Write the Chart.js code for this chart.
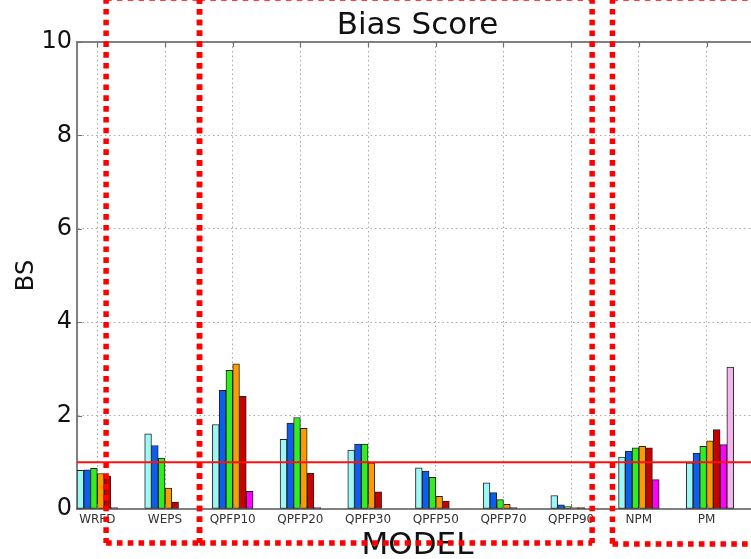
<!DOCTYPE html>
<html>
<head>
<meta charset="utf-8">
<script src="https://cdn.jsdelivr.net/npm/chart.js@4"></script>
<style>
  html, body { margin: 0; padding: 0; background: #fff; overflow: hidden; width: 751px; height: 559px; }
  canvas { display: block; }
</style>
</head>
<body>
<canvas id="chart" width="800" height="600"></canvas>
<script>
// Models on the x axis
const models = ['WRFD', 'WEPS', 'QPFP10', 'QPFP20', 'QPFP30', 'QPFP50', 'QPFP70', 'QPFP90', 'NPM', 'PM'];

// Bias score of each member per model (null = no bar for that model)
const member1 = [0.83, 1.61, 1.81, 1.49, 1.26, 0.88, 0.56, 0.29, 1.11, 0.99];
const member2 = [0.84, 1.36, 2.54, 1.84, 1.39, 0.81, 0.35, 0.09, 1.24, 1.20];
const member3 = [0.87, 1.09, 2.97, 1.96, 1.39, 0.68, 0.20, 0.05, 1.31, 1.34];
const member4 = [0.76, 0.45, 3.11, 1.73, 0.99, 0.27, 0.10, 0.02, 1.34, 1.46];
const member5 = [0.70, 0.15, 2.41, 0.77, 0.37, 0.17, 0.02, 0.01, 1.31, 1.70];
const member6 = [0.01, null, 0.38, 0.03, null, null, null, null, 0.63, 1.38];
const member7 = [null, null, null, null, null, null, null, null, null, 3.04];

const yTickValues = [0, 2, 4, 6, 8, 10];
const perfectBias = 1;

const members = [member1, member2, member3, member4, member5, member6, member7];
const memberColors = ['#9cf7f7', '#0a5ff2', '#30ee20', '#ff9a00', '#c80000', '#ff00ff', '#f5b6f0'];

// bars sit side by side, 0.1 model units wide, starting at each model index
const barWidth = 0.1;
const tickShift = 3 * barWidth;

const datasets = members.map((vals, k) => ({
  label: 'member ' + (k + 1),
  data: vals.map((v, i) => ({ x: i + k * barWidth + barWidth / 2, y: v })),
  backgroundColor: memberColors[k],
  borderColor: '#222',
  borderWidth: 1,
  borderSkipped: false,
  grouped: false,
  categoryPercentage: 1,
  barPercentage: 1,
  minBarLength: 1.5
}));

// highlighted model groups, in axis units
const groupBoxes = [
  { x0: 0.43, x1: 1.81, y0: -0.73, y1: 10.94 },
  { x0: 1.81, x1: 7.61, y0: -0.73, y1: 10.94 },
  { x0: 7.91, x1: 11.5, y0: -0.75, y1: 10.94 }
];

const FONT = 'DejaVu Sans';
const SPINE = '#808080';

const decorations = {
  id: 'decorations',
  afterDatasetsDraw(chart) {
    const { ctx, chartArea: a, scales: { x, y } } = chart;
    ctx.save();
    // reference line at bias = 1
    const yr = y.getPixelForValue(perfectBias);
    ctx.strokeStyle = '#ff1010';
    ctx.lineWidth = 2;
    ctx.beginPath();
    ctx.moveTo(a.left, yr);
    ctx.lineTo(a.right, yr);
    ctx.stroke();
    // top spine
    ctx.strokeStyle = SPINE;
    ctx.lineWidth = 2;
    ctx.beginPath();
    ctx.moveTo(a.left - 1, a.top);
    ctx.lineTo(a.right, a.top);
    ctx.stroke();
    // inward tick marks
    ctx.strokeStyle = '#707070';
    ctx.lineWidth = 1.2;
    ctx.beginPath();
    yTickValues.forEach(v => {
      const py = Math.round(y.getPixelForValue(v)) + 0.5;
      ctx.moveTo(a.left, py);
      ctx.lineTo(a.left + 5, py);
    });
    models.forEach((m, i) => {
      const px = Math.round(x.getPixelForValue(i + tickShift)) + 0.5;
      ctx.moveTo(px, a.bottom);
      ctx.lineTo(px, a.bottom - 5);
      ctx.moveTo(px, a.top);
      ctx.lineTo(px, a.top + 5);
    });
    ctx.stroke();
    ctx.restore();
  },
  afterDraw(chart) {
    const { ctx, scales: { x, y } } = chart;
    ctx.save();
    ctx.strokeStyle = '#ff0000';
    ctx.lineWidth = 5.5;
    ctx.setLineDash([5.6, 5.2]);
    ctx.lineCap = 'butt';
    groupBoxes.forEach(b => {
      const l = x.getPixelForValue(b.x0), r = x.getPixelForValue(b.x1);
      const t = y.getPixelForValue(b.y1), btm = y.getPixelForValue(b.y0);
      const seg = (x1, y1, x2, y2) => { ctx.beginPath(); ctx.moveTo(x1, y1); ctx.lineTo(x2, y2); ctx.stroke(); };
      seg(l, t, r, t);
      seg(l, btm, r, btm);
      seg(l, t, l, btm);
      seg(r, t, r, btm);
    });
    ctx.restore();
  }
};

new Chart(document.getElementById('chart'), {
  type: 'bar',
  data: { datasets },
  plugins: [decorations],
  options: {
    responsive: false,
    animation: false,
    layout: { padding: { left: 0, right: 42, top: 0, bottom: 0 } },
    plugins: {
      legend: { display: false },
      tooltip: { enabled: false },
      title: {
        display: true,
        fullSize: false,
        text: 'Bias Score',
        color: '#111',
        font: { family: FONT, size: 31, weight: 'normal', lineHeight: 1 },
        padding: { top: 10, bottom: 1 }
      }
    },
    scales: {
      x: {
        type: 'linear',
        offset: false,
        min: 0,
        max: 10.06,
        afterBuildTicks: s => { s.ticks = models.map((m, i) => ({ value: i + tickShift })); },
        afterFit: s => { s.height = 91; },
        ticks: {
          autoSkip: false,
          maxRotation: 0,
          callback: (v, i) => models[i],
          color: '#333',
          font: { family: FONT, size: 12 },
          padding: 4
        },
        grid: { offset: false, color: '#a8a8a8', lineWidth: 1, drawTicks: false },
        border: { display: true, color: SPINE, width: 2, dash: [1.5, 3] },
        title: {
          display: true,
          text: 'MODEL',
          color: '#111',
          font: { family: FONT, size: 31, lineHeight: 1 },
          padding: { top: 0, bottom: 39 }
        }
      },
      y: {
        min: 0,
        max: 10,
        afterBuildTicks: s => { s.ticks = yTickValues.map(v => ({ value: v })); },
        afterFit: s => { s.width = 77; },
        ticks: {
          color: '#111',
          font: { family: FONT, size: 24 },
          padding: 5
        },
        grid: { color: '#a8a8a8', lineWidth: 1, drawTicks: false },
        border: { display: true, color: SPINE, width: 2, dash: [1.5, 3] },
        title: {
          display: true,
          text: 'BS',
          color: '#111',
          font: { family: FONT, size: 24, lineHeight: 1 },
          padding: { top: 15, bottom: 0 }
        }
      }
    }
  }
});
</script>
</body>
</html>
